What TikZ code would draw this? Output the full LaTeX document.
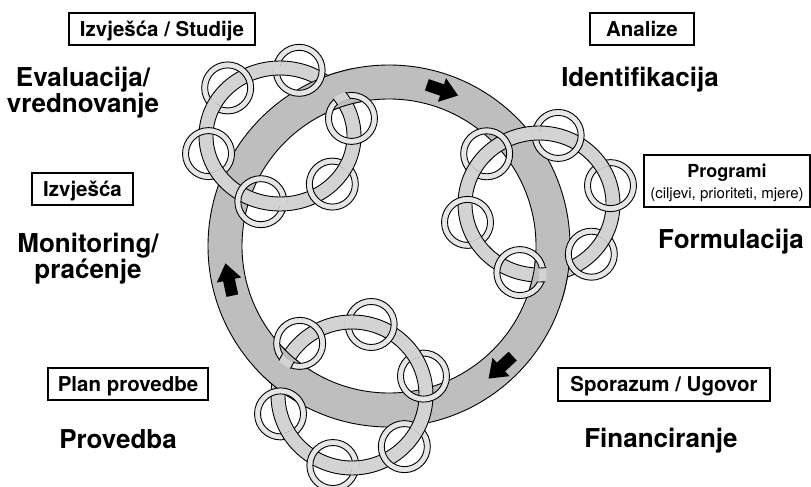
\documentclass[tikz,border=0pt]{standalone}
\usepackage{fontspec}
\setmainfont{TeX Gyre Heros}
\usetikzlibrary{calc}
\definecolor{bigringgray}{RGB}{190,190,190}
\definecolor{bandgray}{RGB}{211,211,211}
\definecolor{beadgray}{RGB}{230,230,230}
\tikzset{
  outline/.style={draw=black, line width=0.9pt},
  labelbox/.style={draw=black, line width=1.3pt, inner sep=0pt, font=\bfseries\fontsize{20.5}{24}\selectfont, text height=14.7pt, text depth=0pt},
  stagelabel/.style={font=\bfseries\fontsize{26}{25}\selectfont, align=center, inner sep=0pt},
  flowarrow/.style={fill=black},
}
\newcommand{\drawband}[4]{%
  \fill[bandgray, even odd rule] (#1,#2) ellipse[x radius=#3+7, y radius=#4+7] (#1,#2) ellipse[x radius=#3-7, y radius=#4-7];
  \draw[outline] (#1,#2) ellipse[x radius=#3+7, y radius=#4+7];
  \draw[outline] (#1,#2) ellipse[x radius=#3-7, y radius=#4-7];}
\newcommand{\drawbigring}{%
  \fill[bigringgray, even odd rule] (389,246) circle[radius=181] (389,246) circle[radius=147];
  \draw[outline] (389,246) circle[radius=181];
  \draw[outline] (389,246) circle[radius=147];}
\newcommand{\drawbead}[5]{%
  \coordinate (bd) at ($(#1,#2)+(#5:#3 and #4)$);
  \fill[beadgray, even odd rule] (bd) circle[radius=26] (bd) circle[radius=20];
  \draw[outline] (bd) circle[radius=26];
  \draw[outline] (bd) circle[radius=20];
  \begin{scope}
    \clip ($(bd)+(#5-180:27)$) arc[start angle=#5-180, end angle=#5, radius=27] -- ($(bd)+(#5:19.4)$) arc[start angle=#5, end angle=#5-180, radius=19.4] -- cycle;
    \drawband{#1}{#2}{#3}{#4}
  \end{scope}}
\newcommand{\flowarrowat}[3]{%
  \fill[flowarrow, shift={(#1,#2)}, rotate=#3] (-16,-6) -- (0,-6) -- (0,-12.5) -- (17,0) -- (0,12.5) -- (0,6) -- (-16,6) -- cycle;}
\begin{document}
\begin{tikzpicture}[x=1pt,y=-1pt]
\fill[white] (0,0) rectangle (811,487);
\useasboundingbox (0,0) rectangle (811,487);
% big cycle ring
\drawbigring
% small rings
\drawband{280}{136}{74}{68}
\drawband{539}{204}{74}{71}
\drawband{352}{395}{74}{73}
% big ring passes over small rings at downstream crossings
\begin{scope}\clip (337,91) circle[radius=28]; \drawbigring \end{scope}
\begin{scope}\clip (550,276) circle[radius=28]; \drawbigring \end{scope}
\begin{scope}\clip (283,371) circle[radius=28]; \drawbigring \end{scope}
% flow arrows
\flowarrowat{442}{90}{-19}
\flowarrowat{229}{280}{102}
\flowarrowat{501}{367}{-137}
% beads
\foreach \t in {45,105,165,225,285,345} {\drawbead{280}{136}{74}{68}{\t}}
\foreach \t in {45,105,165,225,285,345} {\drawbead{539}{204}{74}{71}{\t}}
\foreach \t in {45,105,165,225,285,345} {\drawbead{352}{395}{74}{73}{\t}}
% boxes
\node[labelbox, minimum width=186pt, minimum height=32pt] (repstud) at (162,29) {Izvješća / Studije};
\node[labelbox, minimum width=101pt, minimum height=32pt] (rep) at (82.5,189) {Izvješća};
\node[labelbox, minimum width=160pt, minimum height=32pt] (plan) at (128,384) {Plan provedbe};
\node[labelbox, minimum width=104pt, minimum height=32pt] (anal) at (642,29) {Analize};
\node[draw=black, line width=1.3pt, inner sep=0pt, minimum width=166pt, minimum height=52pt, align=center, font=\bfseries\fontsize{18}{21}\selectfont] (prog) at (727,181) {\rule{0pt}{18pt}Programi\\{\mdseries\fontsize{15}{21}\selectfont (ciljevi, prioriteti, mjere)}};
\node[labelbox, minimum width=212pt, minimum height=33pt] (agree) at (664,384.5) {Sporazum / Ugovor};
% stage labels
\node[stagelabel, anchor=north] (eval) at (83,67) {Evaluacija/\\vrednovanje};
\node[stagelabel, anchor=north] (monit) at (88,233) {Monitoring/\\praćenje};
\node[stagelabel, anchor=base] (impl) at (118,448) {Provedba};
\node[stagelabel, anchor=base] (ident) at (640,86) {Identifikacija};
\node[stagelabel, anchor=base] (form) at (731,248) {Formulacija};
\node[stagelabel, anchor=base] (fin) at (661,447) {Financiranje};
\end{tikzpicture}
\end{document}
